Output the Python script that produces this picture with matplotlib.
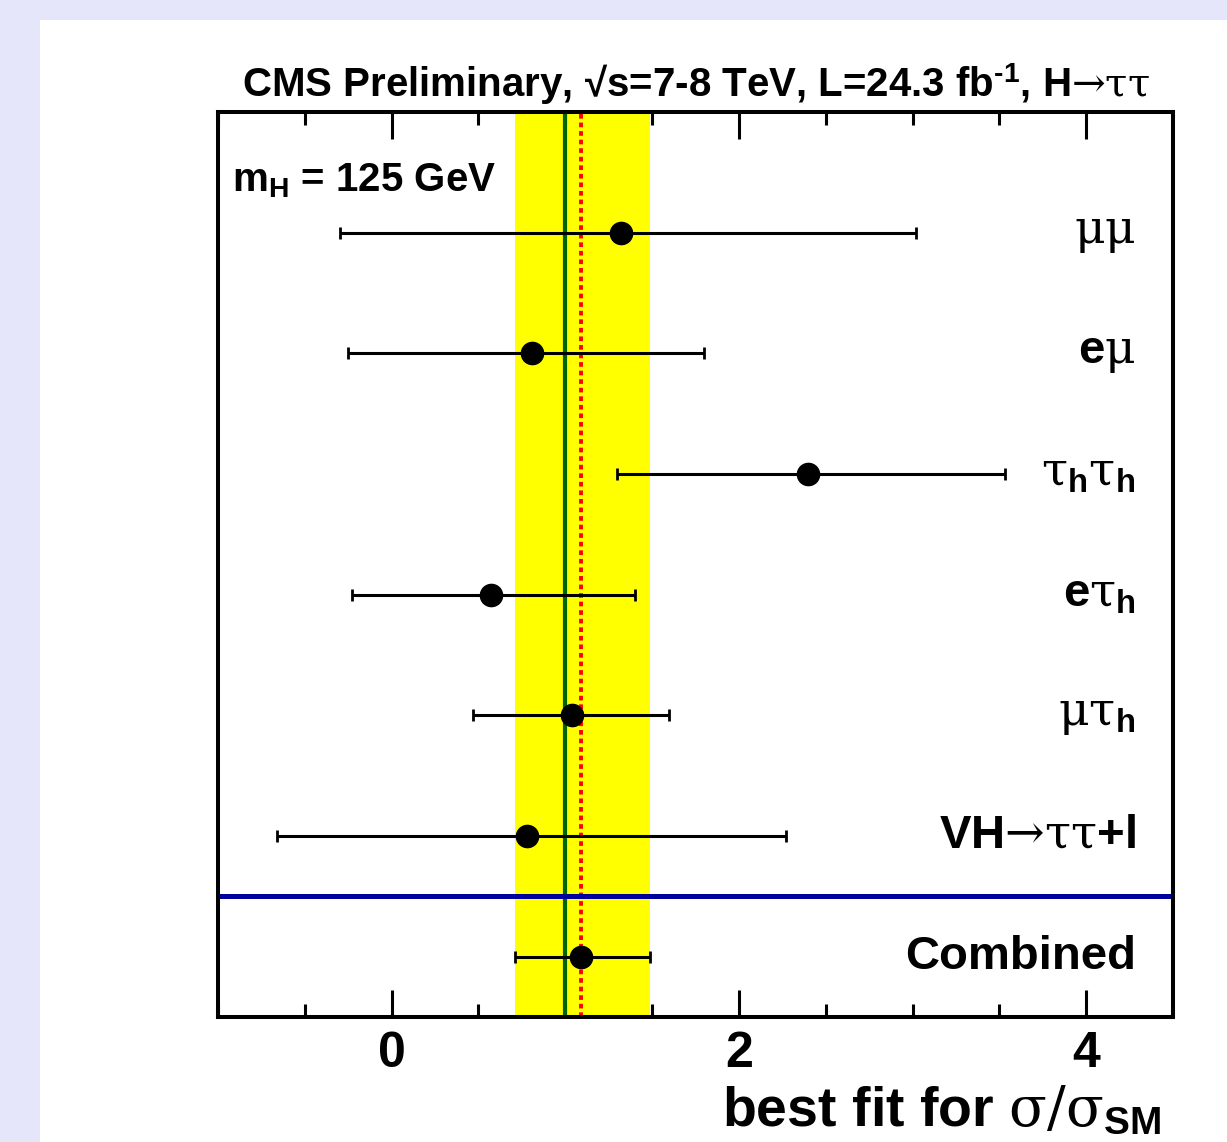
import matplotlib
matplotlib.use('Agg')
import matplotlib.pyplot as plt
from matplotlib.patches import Rectangle

plt.rcParams['font.family'] = ['Liberation Sans', 'DejaVu Sans']
plt.rcParams['mathtext.fontset'] = 'custom'
plt.rcParams['mathtext.rm'] = 'DejaVu Serif:weight=normal'
plt.rcParams['mathtext.it'] = 'DejaVu Serif:italic'
plt.rcParams['mathtext.bf'] = 'Liberation Sans:weight=bold'
plt.rcParams['mathtext.sf'] = 'Liberation Sans'

# channel results
channels = [r'$\mathrm{μμ}$',
            r'$\mathbf{e}\mathrm{μ}$',
            r'$\mathrm{τ}_{\mathbf{h}}\mathrm{τ}_{\mathbf{h}}$',
            r'$\mathbf{e}\mathrm{τ}_{\mathbf{h}}$',
            r'$\mathrm{μτ}_{\mathbf{h}}$',
            r'$\mathbf{VH}\mathrm{→ττ}\mathbf{+l}$',
            'Combined']
best = [1.32, 0.81, 2.40, 0.57, 1.04, 0.78, 1.09]
err_lo = [-0.30, -0.25, 1.30, -0.23, 0.47, -0.66, 0.71]
err_hi = [3.02, 1.80, 3.53, 1.40, 1.60, 2.27, 1.49]
sm_value = 1.0
xticks = [0, 2, 4]

W, H = 1227, 1142
fig = plt.figure(figsize=(W / 100, H / 100), dpi=100)
fig.patch.set_facecolor('#e6e6fa')
fig.patches.append(Rectangle((40 / W, 0), 1, (H - 20) / H, transform=fig.transFigure,
                             facecolor='white', edgecolor='none', zorder=-10))

ax = fig.add_axes([218 / W, (H - 1017) / H, (1173 - 218) / W, (1017 - 112) / H])
ax.set_xlim(-1.0, 4.5)
ax.set_ylim(0, 7.5)

n = len(channels)
ypos = [n - 0.5 - i if i < n - 1 else 0.5 for i in range(n)]

comb = best[-1]
ax.axvspan(err_lo[-1], err_hi[-1], color='#ffff00', zorder=1, lw=0)
ax.axvline(sm_value, color='#006400', lw=3, zorder=2)
ax.axvline(comb, color='red', lw=2.8, zorder=2, dashes=(1.2, 1.0), dash_capstyle='butt')
ax.axhline(1.0, color='#00009c', lw=3.6, zorder=3)

for i in range(n):
    ax.errorbar([best[i]], [ypos[i]],
                xerr=[[best[i] - err_lo[i]], [err_hi[i] - best[i]]],
                fmt='o', color='black', ms=16, elinewidth=2.2, capsize=4, capthick=2,
                zorder=5)
    ax.text(4.285, ypos[i], channels[i], ha='right', va='center', fontsize=34,
            fontweight='bold', zorder=6)

ax.text(0.015, 0.925, r'm$_{\mathbf{H}}$ = 125 GeV', transform=ax.transAxes,
        fontsize=29, fontweight='bold', ha='left', va='center')

ax.set_xticks(xticks)
ax.set_xticklabels([str(t) for t in xticks], fontweight='bold')
ax.set_xticks([x * 0.5 for x in range(-2, 9)], minor=True)
ax.set_yticks([])
ax.tick_params(axis='x', which='major', direction='in', top=True, length=19.5,
               width=2.2, labelsize=36, pad=10)
ax.tick_params(axis='x', which='minor', direction='in', top=True, length=9.5, width=2.2)
for s in ax.spines.values():
    s.set_linewidth(2.9)
    s.set_zorder(10)

fig.text(1150 / W, (H - 97) / H,
         r'CMS Preliminary, √s=7-8 TeV, L=24.3 fb$^{\mathbf{‐1}}$, H$\mathrm{→ττ}$',
         ha='right', va='baseline', fontsize=29, fontweight='bold')
fig.text(722 / W, (H - 1126) / H, r'best fit for $\mathrm{σ/σ}_{\mathbf{SM}}$',
         ha='left', va='baseline', fontsize=40, fontweight='bold')

fig.savefig('out.png', dpi=100)
